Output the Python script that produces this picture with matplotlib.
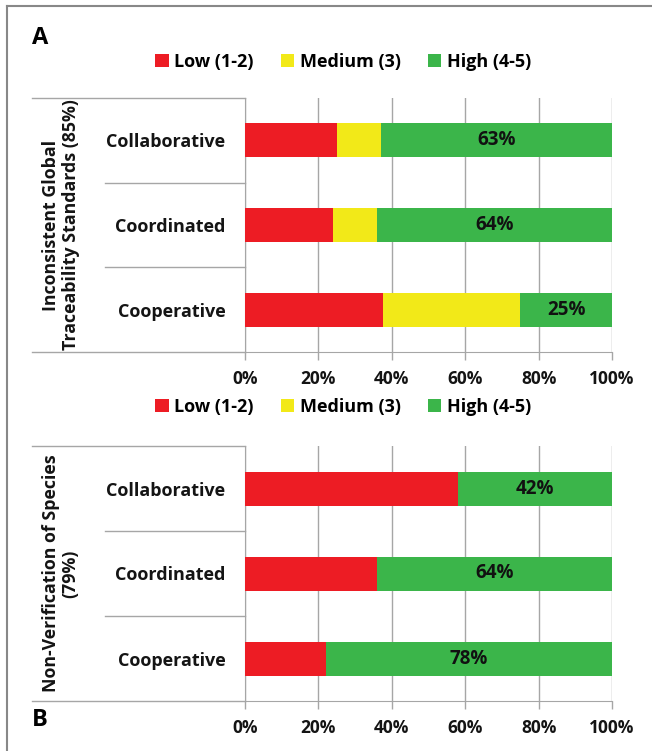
import matplotlib
matplotlib.use("Agg")
import matplotlib.pyplot as plt
from matplotlib.patches import Patch
from matplotlib.lines import Line2D

plt.rcParams['font.family'] = ['Open Sans', 'DejaVu Sans']

categories = ["Collaborative", "Coordinated", "Cooperative"]
series_names = ["Low (1-2)", "Medium (3)", "High (4-5)"]
colors = ["#ED1C24", "#F2E918", "#3BB54A"]

a_low = [25, 24, 37.5]
a_medium = [12, 12, 37.5]
a_high = [63, 64, 25]
a_title = "Inconsistent Global\nTraceability Standards (85%)"

b_low = [58, 36, 22]
b_medium = [0, 0, 0]
b_high = [42, 64, 78]
b_title = "Non-Verification of Species\n(79%)"

xticks = [0, 20, 40, 60, 80, 100]
xtick_labels = ["0%", "20%", "40%", "60%", "80%", "100%"]

W, H = 652, 751
fig = plt.figure(figsize=(W / 100, H / 100), dpi=100)

GRID = "#A6A6A6"
LINE = "#A6A6A6"
TXT = "#141414"
WT = 650


def draw_panel(rect, low, med, high, title):
    ax = fig.add_axes(rect)
    y = list(range(len(categories)))
    lefts = [0] * len(categories)
    for vals, col in zip([low, med, high], colors):
        ax.barh(y, vals, left=lefts, height=0.4, color=col, edgecolor="none", zorder=3)
        lefts = [l + v for l, v in zip(lefts, vals)]
    for i, (l, m, h) in enumerate(zip(low, med, high)):
        ax.text(l + m + h / 2, i, f"{h:.0f}%", ha="center", va="center",
                fontsize=13.5, fontweight="bold", color="#111111", zorder=4)
    ax.set_xlim(0, 100)
    ax.set_ylim(2.5, -0.5)
    ax.set_xticks(xticks)
    ax.set_xticklabels(xtick_labels, fontsize=12.5, fontweight=WT, color=TXT)
    ax.set_yticks(y)
    ax.set_yticklabels(categories, fontsize=13, fontweight=WT, color=TXT)
    ax.tick_params(axis="y", length=0, pad=14)
    ax.tick_params(axis="x", length=6, width=1, color=GRID, pad=7)
    ax.grid(axis="x", color=GRID, linewidth=1, zorder=0)
    for s in ["top", "right"]:
        ax.spines[s].set_visible(False)
    ax.spines["left"].set_color(LINE)
    ax.spines["bottom"].set_color(LINE)
    ax.spines["bottom"].set_bounds(0, 100)
    # table lines to the left
    w_ax = rect[2] * W
    x_far = (32 - 245) / w_ax
    x_mid = (105 - 245) / w_ax
    ax.plot([x_far, 0], [1, 1], transform=ax.transAxes, color=LINE, lw=1, clip_on=False)
    ax.plot([x_far, 0], [0, 0], transform=ax.transAxes, color=LINE, lw=1, clip_on=False)
    for frac in [1 / 3, 2 / 3]:
        ax.plot([x_mid, 0], [frac, frac], transform=ax.transAxes, color=LINE, lw=1, clip_on=False)
    ax.text((61 - 245) / w_ax, 0.5, title, transform=ax.transAxes, rotation=90,
            ha="center", va="center", fontsize=12.8, fontweight=WT, color=TXT, linespacing=1.1)
    return ax


left = 245 / W
width = 367 / W
axA = draw_panel([left, 1 - 352 / H, width, 254 / H], a_low, a_medium, a_high, a_title)
axB = draw_panel([left, 1 - 701 / H, width, 255 / H], b_low, b_medium, b_high, b_title)

handles = [Patch(facecolor=c, edgecolor="none") for c in colors]
for yc in [62, 407]:
    fig.legend(handles, series_names, loc="center", bbox_to_anchor=(343 / W, 1 - yc / H),
               ncol=3, frameon=False, handlelength=0.75, handleheight=0.75,
               handletextpad=0.3, columnspacing=1.5, borderaxespad=0,
               prop={"size": 13, "weight": WT})

fig.text(40 / W, 1 - 38 / H, "A", fontsize=17, fontweight="bold", ha="center", va="center")
fig.text(40 / W, 1 - 720 / H, "B", fontsize=17, fontweight="bold", ha="center", va="center")

# outer frame (top and left)
fig.add_artist(Line2D([7 / W, 7 / W], [0, 1 - 6 / H], transform=fig.transFigure, color="#888888", lw=1.5))
fig.add_artist(Line2D([7 / W, 1], [1 - 6 / H, 1 - 6 / H], transform=fig.transFigure, color="#888888", lw=1.5))

fig.savefig("out.png", dpi=100)
